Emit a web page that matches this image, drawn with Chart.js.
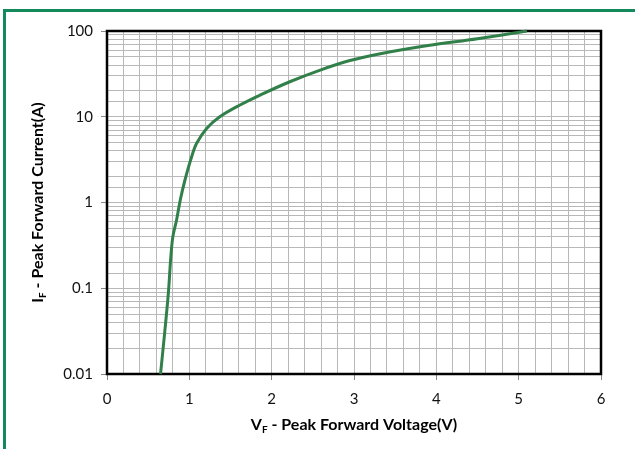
<!DOCTYPE html>
<html>
<head>
<meta charset="utf-8">
<script src="https://cdn.jsdelivr.net/npm/chart.js@4/dist/chart.umd.min.js"></script>
<style>
    html, body { margin: 0; padding: 0; background: #fff; overflow: hidden; }
    #wrap { position: relative; width: 635px; height: 449px; }
    #frame {
        position: absolute; left: 3px; top: 9px;
        width: 700px; height: 500px;
        border: 3px solid #13895c;
    }
    #chart { position: absolute; left: 0; top: 0; }
</style>
</head>
<body>
<div id="wrap">
    <div id="frame"></div>
    <canvas id="chart" width="635" height="449"></canvas>
</div>
<script>
// ================= DATA =================
const forwardVoltage = [0.65, 0.70, 0.745, 0.775, 0.80, 0.845, 0.89, 0.947, 1.028, 1.089, 1.21, 1.37, 1.615, 1.86, 2.22, 2.59, 2.95, 3.32, 3.90, 4.50, 5.10];
const forwardCurrent = [0.01, 0.03, 0.087, 0.23, 0.40, 0.625, 1.07, 1.83, 3.42, 4.9, 7.3, 10.0, 13.7, 17.9, 25.6, 35, 45.2, 54.3, 67.6, 81.3, 100];

const yTickLabels = [0.01, 0.1, 1, 10, 100];
const xTickLabels = [0, 1, 2, 3, 4, 5, 6];

const xTitle = ['V', 'F', ' - Peak Forward Voltage(V)'];
const yTitle = ['I', 'F', ' - Peak Forward Current(A)'];

const lineColor = '#31804a';
const gridColor = '#b8b8b8';
const fontFamily = 'Lato, "Open Sans", sans-serif';

const points = forwardVoltage.map((v, i) => ({ x: v, y: forwardCurrent[i] }));

function isMajorX(v) {
    return xTickLabels.some(t => Math.abs(t - v) < 1e-6);
}
function isMajorY(v) {
    return yTickLabels.some(t => Math.abs(t - v) / t < 1e-6);
}

// draws "V" + subscript "F" + rest
function drawSubTitle(ctx, parts, x, y) {
    const big = 'bold 16px ' + fontFamily;
    const small = 'bold 10px ' + fontFamily;
    ctx.font = big;
    const w0 = ctx.measureText(parts[0]).width;
    const w2 = ctx.measureText(parts[2]).width;
    ctx.font = small;
    const w1 = ctx.measureText(parts[1]).width;
    let cx = x - (w0 + w1 + w2) / 2;
    ctx.textAlign = 'left';
    ctx.textBaseline = 'alphabetic';
    ctx.fillStyle = '#000';
    ctx.font = big;
    ctx.fillText(parts[0], cx, y);
    cx += w0;
    ctx.font = small;
    ctx.fillText(parts[1], cx, y + 3);
    cx += w1;
    ctx.font = big;
    ctx.fillText(parts[2], cx, y);
}

const framePlugin = {
    id: 'frame',
    beforeDatasetsDraw(chart) {
        const { ctx, chartArea: { left, right, top, bottom } } = chart;
        ctx.save();
        ctx.strokeStyle = '#000';
        ctx.lineWidth = 2.5;
        ctx.strokeRect(left, top, right - left, bottom - top);
        ctx.restore();
    },
    afterDraw(chart) {
        const { ctx, chartArea: { left, right, top, bottom } } = chart;
        ctx.save();
        drawSubTitle(ctx, xTitle, (left + right) / 2, 430);
        ctx.translate(43, (top + bottom) / 2);
        ctx.rotate(-Math.PI / 2);
        drawSubTitle(ctx, yTitle, 0, 0);
        ctx.restore();
    }
};

new Chart(document.getElementById('chart'), {
    type: 'scatter',
    data: {
        datasets: [{
            data: points,
            showLine: true,
            borderColor: lineColor,
            borderWidth: 3,
            pointRadius: 0,
            tension: 0.35,
            clip: false
        }]
    },
    options: {
        responsive: false,
        animation: false,
        layout: { padding: { left: 0, right: 34, top: 31, bottom: 0 } },
        plugins: {
            legend: { display: false },
            tooltip: { enabled: false }
        },
        scales: {
            x: {
                type: 'linear',
                min: 0,
                max: 6,
                afterFit(scale) { scale.height = 75; },
                border: { display: false },
                grid: {
                    color: gridColor,
                    lineWidth: 1,
                    tickLength: 6,
                    tickColor: c => isMajorX(c.tick.value) ? '#888' : 'rgba(0,0,0,0)'
                },
                ticks: {
                    stepSize: 0.2,
                    autoSkip: false,
                    maxRotation: 0,
                    padding: 10,
                    color: '#111',
                    font: { family: fontFamily, size: 15 },
                    callback: v => isMajorX(v) ? String(Math.round(v)) : ''
                }
            },
            y: {
                type: 'logarithmic',
                min: 0.01,
                max: 100,
                afterFit(scale) { scale.width = 107; },
                border: { display: false },
                grid: {
                    color: gridColor,
                    lineWidth: 1,
                    tickLength: 6,
                    tickColor: c => isMajorY(c.tick.value) ? '#888' : 'rgba(0,0,0,0)'
                },
                ticks: {
                    autoSkip: false,
                    padding: 8,
                    color: '#111',
                    font: { family: fontFamily, size: 15 },
                    callback: v => isMajorY(v) ? String(v) : ''
                }
            }
        }
    },
    plugins: [framePlugin]
});
</script>
</body>
</html>
